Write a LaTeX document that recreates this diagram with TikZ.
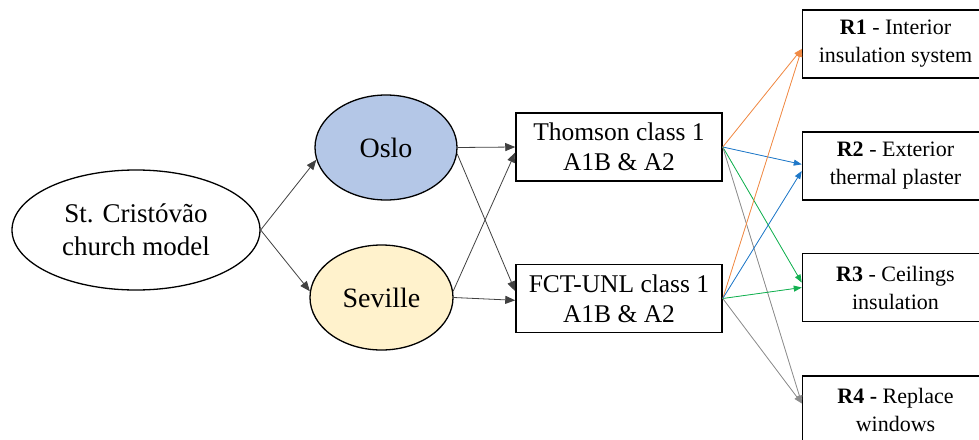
\documentclass[tikz,border=0pt]{standalone}
\usepackage{fontspec}
\setmainfont{Liberation Serif}
\usetikzlibrary{shapes.geometric,arrows.meta}
\definecolor{osloblue}{HTML}{B4C7E7}
\definecolor{sevyellow}{HTML}{FFF2CC}
\definecolor{corange}{HTML}{F08A45}
\definecolor{cblue}{HTML}{1F78C8}
\definecolor{cgreen}{HTML}{12B050}
\definecolor{cgray}{HTML}{8C8C8C}
\definecolor{cdark}{HTML}{404040}
\begin{document}
\begin{tikzpicture}[x=1pt,y=-1pt,
  ell/.style={ellipse, draw=black, line width=1.3pt, inner sep=0pt},
  box/.style={rectangle, draw=black, line width=1.5pt, align=center, inner sep=0pt},
  ltext/.style={font=\fontsize{27}{33}\selectfont},
  ctext/.style={font=\fontsize{28}{33}\selectfont},
  mtext/.style={font=\fontsize{25.5}{30}\selectfont},
  rtext/.style={font=\fontsize{22}{28}\selectfont},
  larrow/.style={draw=cdark, line width=0.8pt, -{Triangle[length=10pt,width=8pt]}},
  carrow/.style={line width=0.8pt, -{Triangle[length=8pt,width=6pt]}}
]
\useasboundingbox (0,0) rectangle (979,439);

\node[ell, minimum width=248pt, minimum height=120pt, align=center, ltext] (main) at (136,230) {St. Cristóvão\\church model};
\node[ell, fill=osloblue, minimum width=142pt, minimum height=105pt, ctext] (oslo) at (386,147.5) {Oslo};
\node[ell, fill=sevyellow, minimum width=143pt, minimum height=105pt, ctext] (sev) at (381.5,297.5) {Seville};

\node[box, minimum width=206pt, minimum height=68pt, mtext] (thom) at (619,147) {Thomson class 1\\A1B \& A2};
\node[box, minimum width=206pt, minimum height=68pt, mtext] (fct) at (619,298.5) {FCT-UNL class 1\\A1B \& A2};

\node[box, minimum width=186pt, minimum height=68pt, rtext] (r1) at (895.5,44) {\textbf{R1} - Interior\\insulation system};
\node[box, minimum width=186pt, minimum height=68pt, rtext] (r2) at (895.5,166) {\textbf{R2} - Exterior\\thermal plaster};
\node[box, minimum width=186pt, minimum height=68pt, rtext] (r3) at (895.5,287.5) {\textbf{R3} - Ceilings\\insulation};
\node[box, minimum width=186pt, minimum height=68pt, rtext] (r4) at (895.5,410) {\textbf{R4 -} Replace\\windows};

\draw[larrow] (main.east) -- (oslo.190);
\draw[larrow] (main.east) -- (sev.175);
\draw[larrow] (oslo.east) -- (thom.west);
\draw[larrow] (oslo.355) -- (fct.176);
\draw[larrow] (sev.5) -- (thom.183);
\draw[larrow] (sev.east) -- (fct.181);

\draw[carrow, draw=corange, fill=corange] (thom.east) -- (r1.183);
\draw[carrow, draw=cblue, fill=cblue] (thom.east) -- (r2.179);
\draw[carrow, draw=cgreen, fill=cgreen] (thom.east) -- (r3.177);
\draw[carrow, draw=cgray, fill=cgray] (thom.east) -- (r4.176);
\draw[carrow, draw=corange, fill=corange] (fct.east) -- (r1.183);
\draw[carrow, draw=cblue, fill=cblue] (fct.east) -- (r2.183);
\draw[carrow, draw=cgreen, fill=cgreen] (fct.east) -- (r3.180);
\draw[carrow, draw=cgray, fill=cgray] (fct.east) -- (r4.176);
\end{tikzpicture}
\end{document}
